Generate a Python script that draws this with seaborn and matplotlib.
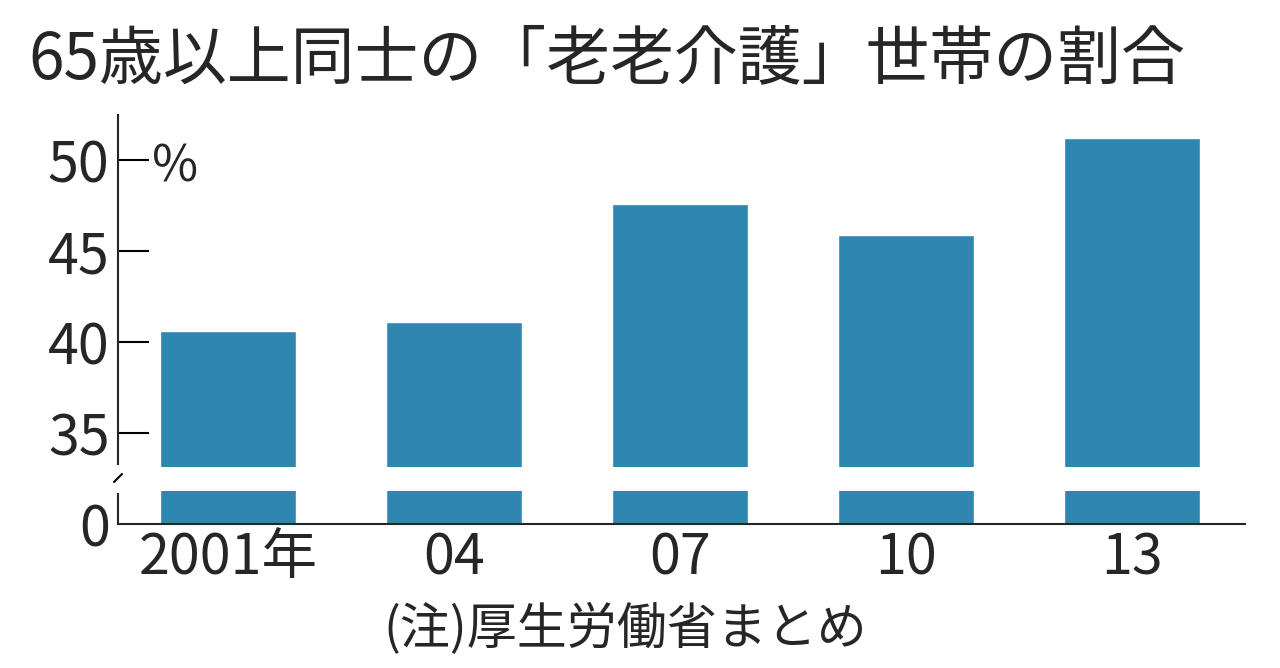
import matplotlib
matplotlib.use("Agg")
import matplotlib.pyplot as plt
import seaborn as sns
import pandas as pd

years = ["2001年", "04", "07", "10", "13"]
values = [40.6, 41.1, 47.6, 45.9, 51.2]
yticks_top = [35, 40, 45, 50]
title = "65歳以上同士の「老老介護」世帯の割合"
note = "(注)厚生労働省まとめ"

sns.set_style("white")
plt.rcParams['font.family'] = ['Noto Sans CJK JP', 'DejaVu Sans']
color = "#2f86b1"
df = pd.DataFrame({"year": years, "value": values})

W, H = 1280, 668
fig = plt.figure(figsize=(12.8, 6.68), dpi=100)
def rect(x0, y0, x1, y1):
    return [x0 / W, 1 - y1 / H, (x1 - x0) / W, (y1 - y0) / H]

ax_top = fig.add_axes(rect(118, 115, 1245, 467))
ax_bot = fig.add_axes(rect(118, 491, 1245, 524))

for ax in (ax_top, ax_bot):
    sns.barplot(data=df, x="year", y="value", color=color, width=0.6,
                saturation=1, ax=ax)
    ax.set_xlim(-0.487, 4.5)
    ax.set_xlabel(""); ax.set_ylabel("")
    for s in ("top", "right"):
        ax.spines[s].set_visible(False)
    ax.spines["left"].set_linewidth(1.5)
    ax.tick_params(axis="y", left=True, direction="in", length=22, width=1.5,
                   labelsize=40, pad=6, color="black")

ax_top.set_ylim(33.13, 52.47)
ax_top.set_yticks(yticks_top)
ax_top.spines["bottom"].set_visible(False)
ax_top.set_xticks([])

ax_bot.set_ylim(0, 1.0)
ax_bot.set_yticks([0])
ax_bot.tick_params(axis="y", length=0, pad=6)
ax_bot.spines["bottom"].set_linewidth(1.5)
ax_bot.tick_params(axis="x", length=0, labelsize=40, pad=4)

# break mark
fig.lines.append(plt.Line2D([118 / W, 118 / W], [1 - 467 / H, 1 - 491 / H],
                            color="white", lw=3, transform=fig.transFigure))
fig.lines.append(plt.Line2D([114 / W, 122 / W], [1 - 482 / H, 1 - 474 / H],
                            color="black", lw=1.5, transform=fig.transFigure))

fig.text(28 / W, 1 - 60 / H, title, fontsize=46, va="center", ha="left")
fig.text(152 / W, 1 - 168 / H, "%", fontsize=36, va="center", ha="left")
fig.text(383 / W, 1 - 630 / H, note, fontsize=36, va="center", ha="left")

fig.savefig("out.png", dpi=100)
